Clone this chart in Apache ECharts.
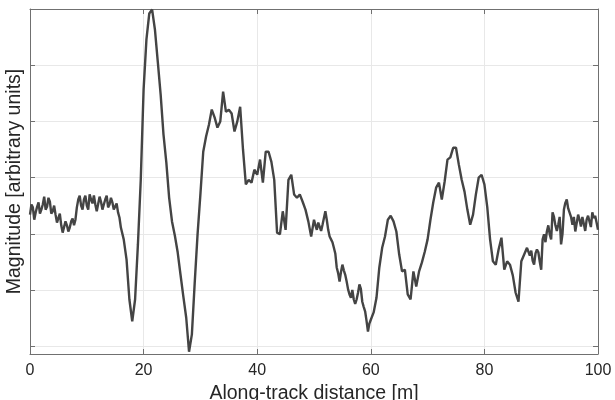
<!DOCTYPE html>
<html>
<head>
<meta charset="utf-8">
<script src="https://cdn.jsdelivr.net/npm/echarts@6/dist/echarts.min.js"></script>
<style>html,body{margin:0;padding:0;background:#fff}#c{width:615px;height:400px}</style>
</head>
<body>
<div id="c"></div>
<script>
var distance = [
0,0.25,0.5,0.75,1,1.25,1.5,1.75,2,2.25,2.5,2.75,3,3.25,3.5,3.75,
4,4.25,4.5,4.75,5,5.25,5.5,5.75,6,6.25,6.5,6.75,7,7.25,7.5,7.75,
8,8.25,8.5,8.75,9,9.25,9.5,9.75,10,10.25,10.5,10.75,11,11.25,11.5,11.75,
12,12.25,12.5,12.75,13,13.25,13.5,13.75,14,14.25,14.5,14.75,15,15.25,15.5,15.75,
16,16.5,17,17.5,18,18.5,19,19.5,
20,20.5,21,21.5,22,22.5,23,23.5,24,24.5,
25,25.5,26,26.5,27,27.5,28,28.5,29,29.5,
30,30.5,31,31.5,32,32.5,33,33.5,34,34.5,
35,35.5,36,36.5,37,37.5,38,38.5,39,39.5,
40,40.5,41,41.5,42,42.5,43,43.5,44,44.5,
45,45.5,46,46.5,47,47.5,48,48.5,49,49.5,
50,50.25,50.5,50.75,51,51.25,51.5,51.75,52,52.25,52.5,52.75,53,53.25,53.5,53.75,
54,54.25,54.5,54.75,55,55.25,55.5,55.75,56,56.25,56.5,56.75,57,57.25,57.5,57.75,
58,58.25,58.5,58.75,59,59.25,59.5,59.75,
60,60.5,61,61.5,62,62.5,63,63.5,64,64.5,
65,65.5,66,66.5,67,67.5,68,68.5,69,69.5,
70,70.5,71,71.5,72,72.5,73,73.5,74,74.5,
75,75.5,76,76.5,77,77.5,78,78.5,79,79.5,
80,80.5,81,81.5,82,82.5,83,83.5,84,84.5,
85,85.5,86,86.5,87,87.5,88,88.25,88.5,88.75,89,89.25,89.5,89.75,
90,90.25,90.5,90.75,91,91.25,91.5,91.75,92,92.25,92.5,92.75,93,93.25,93.5,93.75,
94,94.25,94.5,94.75,95,95.25,95.5,95.75,96,96.25,96.5,96.75,97,97.25,97.5,97.75,
98,98.25,98.5,98.75,99,99.25,99.5,99.75,100
];
var magnitude = [
-0.66,-0.48,-0.53,-0.75,-0.62,-0.52,-0.44,-0.64,-0.57,-0.48,-0.34,-0.57,-0.52,-0.36,-0.43,-0.64,
-0.60,-0.50,-0.66,-0.80,-0.78,-0.64,-0.85,-0.98,-1.00,-0.78,-0.85,-0.96,-0.89,-0.78,-0.73,-0.85,
-0.75,-0.53,-0.39,-0.32,-0.50,-0.57,-0.39,-0.32,-0.50,-0.57,-0.30,-0.39,-0.46,-0.32,-0.48,-0.60,
-0.57,-0.34,-0.43,-0.57,-0.48,-0.39,-0.32,-0.53,-0.48,-0.36,-0.44,-0.57,-0.59,-0.46,-0.62,-0.71,
-0.89,-1.10,-1.46,-2.17,-2.56,-2.17,-1.19,-0.04,
1.57,2.46,2.92,2.99,2.63,2.06,1.48,0.77,0.27,-0.36,
-0.78,-1.03,-1.33,-1.73,-2.12,-2.49,-3.10,-2.79,-1.87,-1.01,
-0.30,0.46,0.73,0.94,1.21,1.07,0.89,1.00,1.53,1.17,
1.21,1.14,0.82,1.00,1.26,0.50,-0.12,-0.04,-0.09,0.14,
0.05,0.32,-0.09,0.46,0.46,0.28,-0.04,-0.98,-1.01,-0.60,
-0.93,-0.04,0.05,-0.30,-0.36,-0.30,-0.43,-0.57,-0.78,-1.05,
-0.75,-0.85,-0.93,-0.80,-0.78,-0.95,-0.84,-0.72,-0.60,-0.75,-0.93,-1.05,-1.10,-1.15,-1.25,-1.35,
-1.60,-1.70,-1.85,-1.68,-1.55,-1.65,-1.73,-1.85,-1.99,-2.08,-2.14,-2.00,-2.17,-2.25,-2.17,-2.05,
-1.90,-1.98,-2.21,-2.30,-2.38,-2.55,-2.74,-2.60,
-2.53,-2.40,-2.14,-1.60,-1.25,-1.05,-0.75,-0.68,-0.78,-0.96,
-1.37,-1.67,-1.64,-2.08,-2.17,-1.67,-1.94,-1.67,-1.51,-1.32,
-1.10,-0.75,-0.44,-0.18,-0.09,-0.39,-0.07,0.32,0.36,0.53,
0.53,0.23,-0.04,-0.25,-0.57,-0.84,-0.66,-0.30,0.00,0.05,
-0.12,-0.52,-1.10,-1.49,-1.55,-1.28,-1.07,-1.64,-1.49,-1.55,
-1.74,-2.05,-2.21,-1.49,-1.37,-1.25,-1.39,-1.30,-1.48,-1.55,-1.35,-1.28,-1.33,-1.50,
-1.64,-1.10,-1.01,-1.15,-0.96,-0.85,-1.01,-1.10,-0.62,-0.70,-0.85,-0.95,-0.84,-0.70,-1.19,-1.00,
-0.57,-0.45,-0.39,-0.55,-0.53,-0.70,-0.84,-0.70,-0.96,-0.95,-0.66,-0.75,-0.87,-0.70,-0.82,-0.95,
-0.75,-0.68,-0.78,-0.88,-0.62,-0.72,-0.68,-0.80,-0.93
];
var xTicks = [0, 20, 40, 60, 80, 100];
var yTicks = [-3, -2, -1, 0, 1, 2, 3];

var seriesData = distance.map(function (d, i) { return [d, magnitude[i]]; });

var frame = '#707070';
var gridC = '#e8e8e8';
var font = '"Liberation Sans", Arial, Helvetica, sans-serif';

var chart = echarts.init(document.getElementById('c'), null, {renderer: 'canvas'});
chart.setOption({
  animation: false,
  backgroundColor: '#fff',
  grid: {left: 30, right: 17, top: 9, bottom: 46, containLabel: false, outerBoundsMode: 'none'},
  xAxis: [{
    type: 'value', min: 0, max: 100, interval: 20, position: 'bottom',
    name: 'Along-track distance [m]', nameLocation: 'middle', nameGap: 29,
    nameTextStyle: {fontFamily: font, fontSize: 19.5, color: '#262626'},
    axisLine: {show: true, onZero: false, lineStyle: {color: frame, width: 1}},
    axisTick: {show: true, inside: true, length: 5, lineStyle: {color: frame}},
    axisLabel: {show: true, margin: 9, fontFamily: font, fontSize: 16, color: '#262626'},
    splitLine: {show: true, lineStyle: {color: gridC, width: 1}}
  }, {
    type: 'value', min: 0, max: 100, interval: 20, position: 'top',
    axisLine: {show: true, onZero: false, lineStyle: {color: frame, width: 1}},
    axisTick: {show: true, inside: true, length: 5, lineStyle: {color: frame}},
    axisLabel: {show: false},
    splitLine: {show: false}
  }],
  yAxis: [{
    type: 'value', min: -3.14, max: 3, position: 'left',
    name: 'Magnitude [arbitrary units]', nameLocation: 'middle', nameGap: 5,
    nameTextStyle: {fontFamily: font, fontSize: 19.5, color: '#262626'},
    axisLine: {show: true, onZero: false, lineStyle: {color: frame, width: 1}},
    axisTick: {show: true, inside: true, length: 5, customValues: yTicks, lineStyle: {color: frame}},
    axisLabel: {show: false},
    splitLine: {show: true, lineStyle: {color: gridC, width: 1}}
  }, {
    type: 'value', min: -3.14, max: 3, position: 'right',
    axisLine: {show: true, onZero: false, lineStyle: {color: frame, width: 1}},
    axisTick: {show: true, inside: true, length: 5, customValues: yTicks, lineStyle: {color: frame}},
    axisLabel: {show: false},
    splitLine: {show: false}
  }],
  series: [{
    type: 'line', xAxisIndex: 0, yAxisIndex: 0,
    data: seriesData, showSymbol: false, symbol: 'none',
    lineStyle: {color: '#444444', width: 2.4}, clip: true
  }]
});
</script>
</body>
</html>
